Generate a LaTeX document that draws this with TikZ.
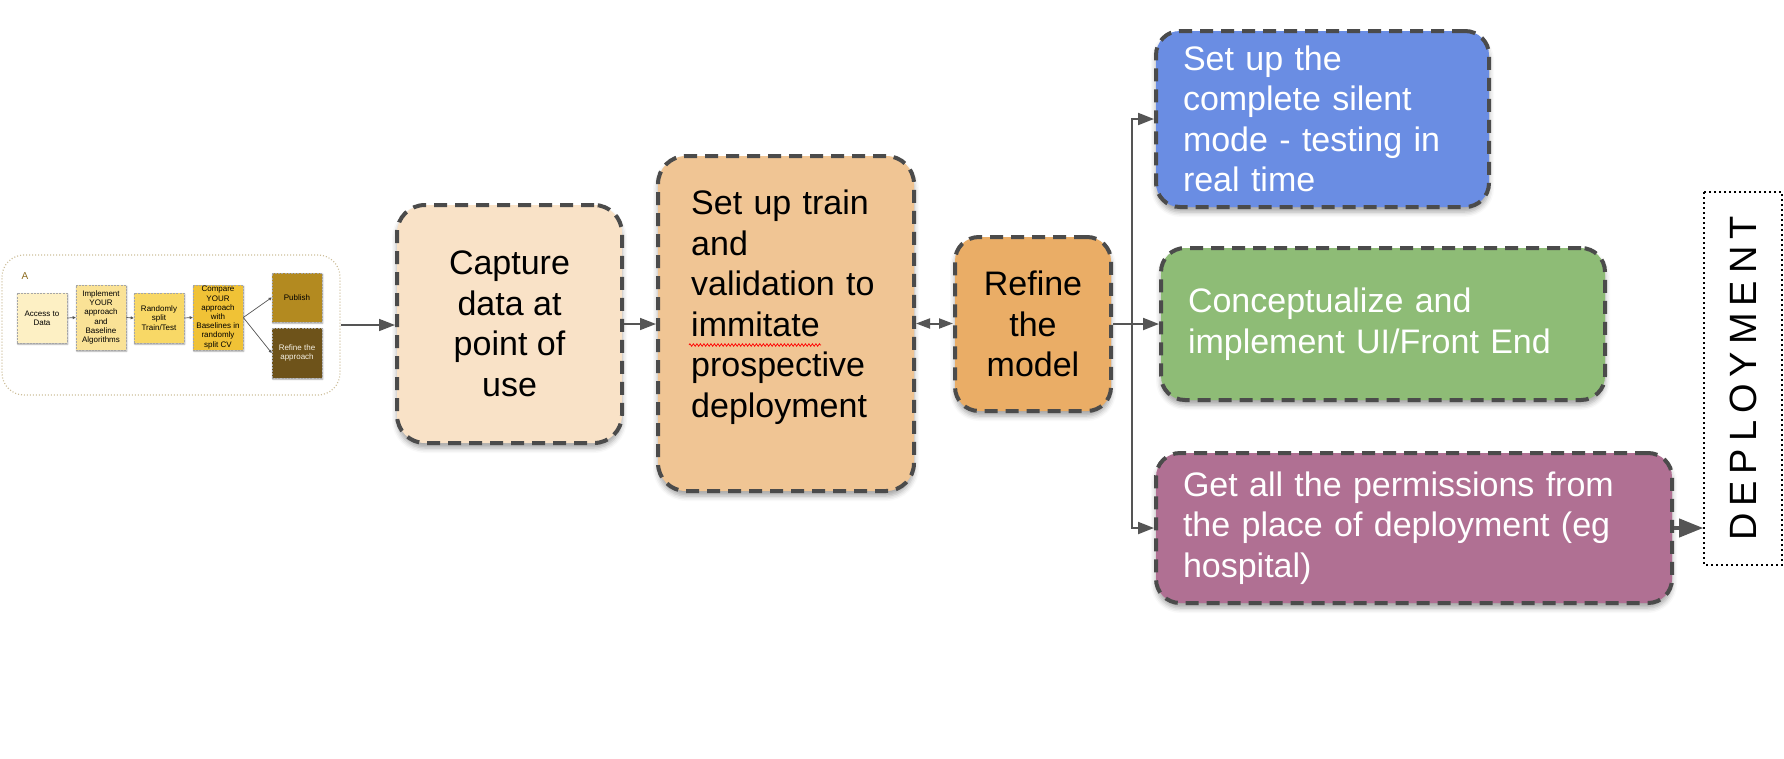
\documentclass[tikz,border=0pt]{standalone}
\usepackage{fontspec}
\setmainfont{Liberation Sans}
\usetikzlibrary{arrows.meta,shadows.blur,decorations.pathmorphing,calc}
\definecolor{dashgray}{HTML}{4B4B4B}
\definecolor{conngray}{HTML}{555555}
\definecolor{capfill}{HTML}{F9E2C7}
\definecolor{setfill}{HTML}{F0C594}
\definecolor{reffill}{HTML}{EAAD66}
\definecolor{bluefill}{HTML}{6A8DE3}
\definecolor{greenfill}{HTML}{8EBC76}
\definecolor{purplefill}{HTML}{B07093}
\definecolor{insetline}{HTML}{CDBE9A}
\definecolor{yA}{HTML}{FDF0C4}
\definecolor{yB}{HTML}{FAE296}
\definecolor{yC}{HTML}{F8D866}
\definecolor{yD}{HTML}{F0C236}
\definecolor{yE}{HTML}{B38A20}
\definecolor{yF}{HTML}{6E531A}
\definecolor{alabel}{HTML}{8C6B1F}
\newcommand\bigtxt{\fontsize{34}{40.5}\selectfont}
\newcommand\smalltxt{\fontsize{8}{9.2}\selectfont}
\begin{document}
\begin{tikzpicture}[x=1pt,y=-1pt,
  bigbox/.style={draw=dashgray, line width=4pt, dash pattern=on 13pt off 8pt,
    rounded corners=28pt, inner sep=0pt, font=\bigtxt, align=center,
    blur shadow={shadow xshift=0pt, shadow yshift=-5pt, shadow blur radius=5pt, shadow opacity=35}},
  whitebox/.style={bigbox, rounded corners=24pt, text=white, align=left},
  minibox/.style={draw=gray!70, line width=0.6pt, dash pattern=on 2pt off 1.2pt, inner sep=0pt,
    font=\smalltxt, align=center, minimum width=50pt,
    blur shadow={shadow xshift=0.8pt, shadow yshift=-1.2pt, shadow blur radius=1.5pt, shadow opacity=35}},
  miniarrow/.style={draw=conngray, line width=0.7pt, -{Triangle[length=3pt,width=3pt]}},
  conn/.style={draw=conngray, line width=2pt, -{Triangle[length=16pt,width=12pt]}},
  thinconn/.style={draw=conngray, line width=1.6pt, -{Triangle[length=16pt,width=12pt]}},
  dblconn/.style={draw=conngray, line width=2pt, {Triangle[length=14pt,width=10pt]}-{Triangle[length=14pt,width=10pt]}},
  bigconn/.style={draw=conngray, line width=4pt, -{Triangle[length=24pt,width=18pt]}},
]
\useasboundingbox (0,0) rectangle (1784,758);

% inset panel A
\node[draw=insetline, line width=1.2pt, dash pattern=on 1pt off 2pt, rounded corners=22pt,
  minimum width=338pt, minimum height=140pt, inner sep=0pt] (inset) at (171,325) {};
\node[text=alabel, font=\fontsize{10}{12}\selectfont, inner sep=0pt] (lblA) at (25,276) {A};
\node[minibox, fill=yA, minimum height=50pt] (access) at (42,318) {Access to\\Data};
\node[minibox, fill=yB, minimum height=65pt] (impl) at (101,317.5) {Implement\\YOUR\\approach\\and\\Baseline\\Algorithms};
\node[minibox, fill=yC, minimum height=50pt] (rand) at (159,318) {Randomly\\split\\Train/Test};
\node[minibox, fill=yD, minimum height=65pt] (comp) at (218,317.5) {Compare\\YOUR\\approach\\with\\Baselines in\\randomly\\split CV};
\node[minibox, fill=yE, minimum height=49pt] (pub) at (297,297.5) {Publish};
\node[minibox, fill=yF, text=white!88!yE, minimum height=50pt] (refa) at (297,353) {Refine the\\approach};

\draw[miniarrow] (access.east) -- (impl.west);
\draw[miniarrow] (impl.east) -- (rand.west);
\draw[miniarrow] (rand.east) -- (comp.west);
\draw[miniarrow] (comp.east) -- (pub.west);
\draw[miniarrow] (comp.east) -- (refa.west);

% main boxes
\node[bigbox, fill=capfill, minimum width=225pt, minimum height=238pt] (capture) at (509.5,324) {Capture\\data at\\point of\\use};
\node[bigbox, fill=setfill, minimum width=256pt, minimum height=335pt] (setup) at (786,323.5) {};
\node[font=\bigtxt, text width=190pt, align=left, inner sep=0pt, anchor=north west] (setuptext) at (691,190)
  {Set up train\\and\\validation to\\immitate\\prospective\\deployment};
\draw[red, line width=0.7pt, decorate, decoration={zigzag, amplitude=1.3pt, segment length=3.5pt}] (689,345) -- (821,345);
\node[bigbox, fill=reffill, rounded corners=24pt, minimum width=156pt, minimum height=174pt] (refine) at (1033,324) {Refine\\the\\model};
\node[whitebox, fill=bluefill, minimum width=333pt, minimum height=176pt, text width=279pt] (blue) at (1322.5,119)
  {Set up the\\complete silent\\mode - testing in\\real time};
\node[whitebox, fill=greenfill, minimum width=444pt, minimum height=152pt, text width=390pt] (green) at (1383,324)
  {Conceptualize and\\implement UI/Front End};
\node[whitebox, fill=purplefill, minimum width=516pt, minimum height=150pt, text width=462pt] (purple) at (1414,528)
  {Get all the permissions from\\the place of deployment (eg\\hospital)};
\node[draw=black, line width=1.6pt, dash pattern=on 1.6pt off 3.4pt, rotate=90, minimum width=373pt,
  minimum height=78pt, inner sep=0pt, font=\fontsize{38}{38}\selectfont] (deploy) at (1743,378.5)
  {D\kern7pt E\kern7pt P\kern7pt L\kern7pt O\kern7pt Y\kern7pt M\kern7pt E\kern7pt N\kern7pt T};

% connectors
\draw[thinconn] (inset.east) -- (inset.east -| capture.west);
\draw[thinconn] (capture.east) -- (capture.east -| setup.west);
\draw[dblconn] (setup.east) -- (setup.east -| refine.west);
\coordinate (split) at (1132,324);
\draw[conn] (refine.east) -- (green.west);
\draw[conn] (split) |- (blue.west);
\draw[conn] (split) |- (purple.west);
\draw[bigconn] (purple.east) -- (purple.east -| deploy.north);
\end{tikzpicture}
\end{document}
